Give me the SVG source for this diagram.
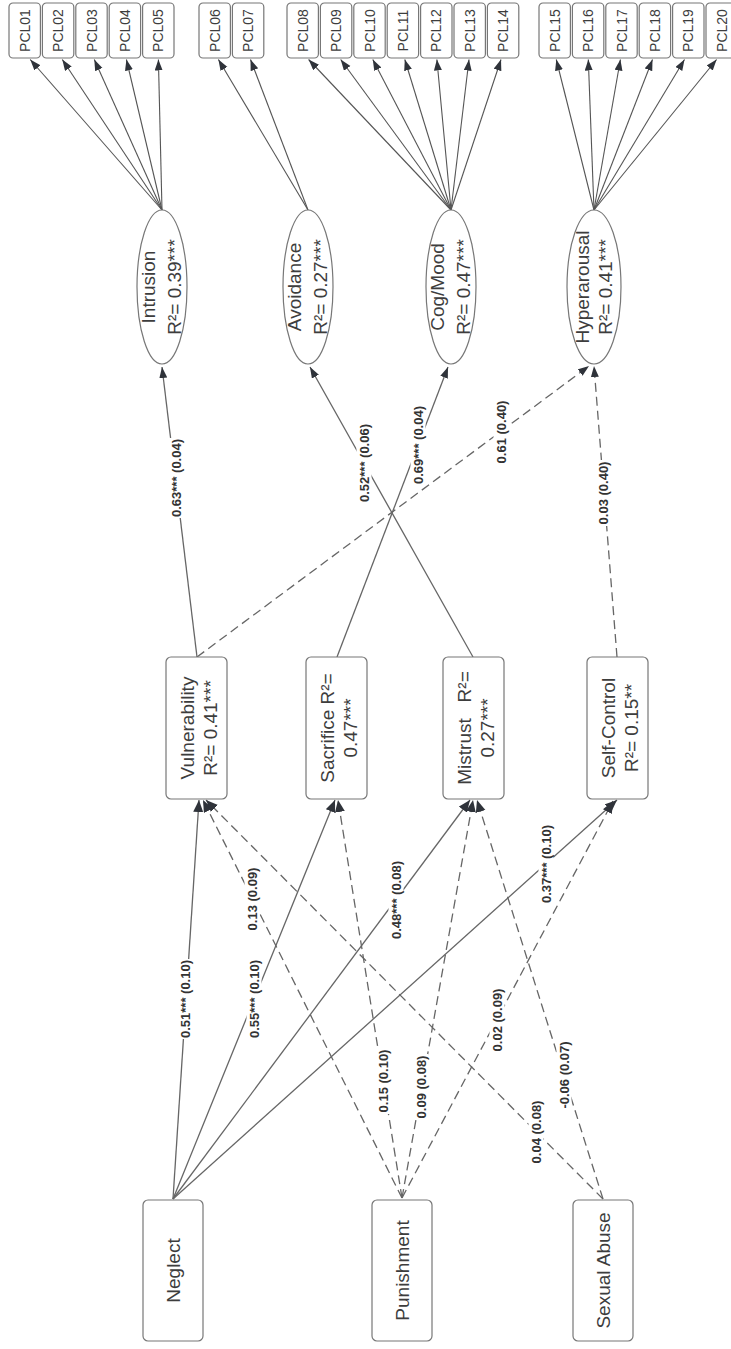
<svg xmlns="http://www.w3.org/2000/svg" width="731" height="1349" viewBox="0 0 731 1349">
  <style>
    .edge { fill: none; stroke: #666666; stroke-width: 1.3; }
    .dash { stroke-dasharray: 9 5; }
    .med { marker-end: url(#ah-lg); }
    .fac { marker-end: url(#ah-md); }
    .load { fill: none; stroke: #555555; stroke-width: 1.1; marker-end: url(#ah-sm); }
    .box { fill: #ffffff; stroke: #777777; stroke-width: 1.2; }
    .lblbg { fill: #ffffff; }
    .lbl { font-family: "Liberation Sans", Arial, sans-serif; font-weight: bold; font-size: 13px; fill: #333333; text-anchor: middle; }
    .nt { font-family: "Liberation Sans", Arial, sans-serif; font-size: 19px; fill: #3d3d3d; text-anchor: middle; white-space: pre; }
    .pt { font-family: "Liberation Sans", Arial, sans-serif; font-size: 14px; fill: #3d3d3d; text-anchor: middle; }
  </style>
  <defs>
    <marker id="ah-lg" markerUnits="userSpaceOnUse" markerWidth="13" markerHeight="11" refX="12" refY="5" orient="auto">
      <path d="M0,0 L12,5 L0,10 z" fill="#2f333a"/>
    </marker>
    <marker id="ah-md" markerUnits="userSpaceOnUse" markerWidth="12" markerHeight="9" refX="11" refY="4" orient="auto">
      <path d="M0,0 L11,4 L0,8 z" fill="#2f333a"/>
    </marker>
    <marker id="ah-sm" markerUnits="userSpaceOnUse" markerWidth="12" markerHeight="9" refX="11" refY="4" orient="auto">
      <path d="M0,0 L11,4 L0,8 z" fill="#2f333a"/>
    </marker>
  </defs>

  <rect width="731" height="1349" fill="#ffffff"/>

  <!-- connectors: structural paths, factor loadings and path coefficients -->
  <g id="connectors">
    <!-- maltreatment -> schema domains -->
    <path class="edge med" d="M173,1199 L199,800"/>
    <path class="edge med" d="M173,1199 L335,800"/>
    <path class="edge med" d="M173,1199 L470,800"/>
    <path class="edge med" d="M173,1199 L617,800"/>
    <path class="edge dash med" d="M402,1198 L203,800"/>
    <path class="edge dash med" d="M402,1198 L338,800"/>
    <path class="edge dash med" d="M402,1198 L473,800"/>
    <path class="edge dash med" d="M402,1198 L613,801"/>
    <path class="edge dash med" d="M603,1199 L206,800"/>
    <path class="edge dash med" d="M603,1199 L477,800"/>

    <!-- schema domains -> PTSD clusters -->
    <path class="edge fac" d="M197,657 L162,367"/>
    <path class="edge dash fac" d="M197,657 L589,366"/>
    <path class="edge fac" d="M337,657 L448,367"/>
    <path class="edge fac" d="M473,657 L310,367"/>
    <path class="edge dash fac" d="M617,657 L594,366"/>

    <!-- item loadings -->
    <path class="load" d="M162,210 L30.2,59.5"/>
    <path class="load" d="M162,210 L62.3,59.5"/>
    <path class="load" d="M162,210 L94.3,59.5"/>
    <path class="load" d="M162,210 L126.4,59.5"/>
    <path class="load" d="M162,210 L158.4,59.5"/>
    <path class="load" d="M308,210 L218.4,59.5"/>
    <path class="load" d="M308,210 L250.5,59.5"/>
    <path class="load" d="M451,210 L308.6,59.5"/>
    <path class="load" d="M451,210 L340.7,59.5"/>
    <path class="load" d="M451,210 L372.8,59.5"/>
    <path class="load" d="M451,210 L404.8,59.5"/>
    <path class="load" d="M451,210 L436.9,59.5"/>
    <path class="load" d="M451,210 L469,59.5"/>
    <path class="load" d="M451,210 L501,59.5"/>
    <path class="load" d="M594,210 L556.3,59.5"/>
    <path class="load" d="M594,210 L588.3,59.5"/>
    <path class="load" d="M594,210 L620.4,59.5"/>
    <path class="load" d="M594,210 L652.5,59.5"/>
    <path class="load" d="M594,210 L684.5,59.5"/>
    <path class="load" d="M594,210 L716.6,59.5"/>

    <!-- coefficient labels -->
    <g transform="translate(185,999) rotate(-90)"><rect class="lblbg" x="-40" y="-7.5" width="80" height="15"/><text class="lbl" y="4.6">0.51*** (0.10)</text></g>
    <g transform="translate(254,999) rotate(-90)"><rect class="lblbg" x="-40" y="-7.5" width="80" height="15"/><text class="lbl" y="4.6">0.55*** (0.10)</text></g>
    <g transform="translate(396,900) rotate(-90)"><rect class="lblbg" x="-40" y="-7.5" width="80" height="15"/><text class="lbl" y="4.6">0.48*** (0.08)</text></g>
    <g transform="translate(546,864) rotate(-90)"><rect class="lblbg" x="-40" y="-7.5" width="80" height="15"/><text class="lbl" y="4.6">0.37*** (0.10)</text></g>
    <g transform="translate(252,899) rotate(-90)"><rect class="lblbg" x="-33" y="-7.5" width="66" height="15"/><text class="lbl" y="4.6">0.13 (0.09)</text></g>
    <g transform="translate(383,1081) rotate(-90)"><rect class="lblbg" x="-33" y="-7.5" width="66" height="15"/><text class="lbl" y="4.6">0.15 (0.10)</text></g>
    <g transform="translate(421,1087) rotate(-90)"><rect class="lblbg" x="-33" y="-7.5" width="66" height="15"/><text class="lbl" y="4.6">0.09 (0.08)</text></g>
    <g transform="translate(497,1020) rotate(-90)"><rect class="lblbg" x="-33" y="-7.5" width="66" height="15"/><text class="lbl" y="4.6">0.02 (0.09)</text></g>
    <g transform="translate(536,1132) rotate(-90)"><rect class="lblbg" x="-33" y="-7.5" width="66" height="15"/><text class="lbl" y="4.6">0.04 (0.08)</text></g>
    <g transform="translate(564,1075) rotate(-90)"><rect class="lblbg" x="-35" y="-7.5" width="70" height="15"/><text class="lbl" y="4.6">-0.06 (0.07)</text></g>
    <g transform="translate(176,478) rotate(-90)"><rect class="lblbg" x="-40" y="-7.5" width="80" height="15"/><text class="lbl" y="4.6">0.63*** (0.04)</text></g>
    <g transform="translate(364,463) rotate(-90)"><rect class="lblbg" x="-40" y="-7.5" width="80" height="15"/><text class="lbl" y="4.6">0.52*** (0.06)</text></g>
    <g transform="translate(418,445) rotate(-90)"><rect class="lblbg" x="-40" y="-7.5" width="80" height="15"/><text class="lbl" y="4.6">0.69*** (0.04)</text></g>
    <g transform="translate(501,432) rotate(-90)"><rect class="lblbg" x="-33" y="-7.5" width="66" height="15"/><text class="lbl" y="4.6">0.61 (0.40)</text></g>
    <g transform="translate(603,493) rotate(-90)"><rect class="lblbg" x="-33" y="-7.5" width="66" height="15"/><text class="lbl" y="4.6">0.03 (0.40)</text></g>
  </g>

  <!-- maltreatment types -->
  <g id="n-neglect">
    <rect class="box" x="143" y="1200" width="60" height="141" rx="5"/>
    <text class="nt" transform="translate(173,1270.5) rotate(-90)" y="6.8">Neglect</text>
  </g>
  <g id="n-punishment">
    <rect class="box" x="372" y="1200" width="60" height="141" rx="5"/>
    <text class="nt" transform="translate(402,1270.5) rotate(-90)" y="6.8">Punishment</text>
  </g>
  <g id="n-sexual-abuse">
    <rect class="box" x="573" y="1200" width="60" height="141" rx="5"/>
    <text class="nt" transform="translate(603,1270.5) rotate(-90)" y="6.8">Sexual Abuse</text>
  </g>

  <!-- schema domains -->
  <g id="n-vulnerability">
    <rect class="box" x="166" y="657" width="61" height="142" rx="5"/>
    <text class="nt" transform="translate(196.5,728) rotate(-90)"><tspan x="0" y="-3">Vulnerability</tspan><tspan x="0" y="20">R²= 0.41***</tspan></text>
  </g>
  <g id="n-sacrifice">
    <rect class="box" x="306" y="657" width="61" height="142" rx="5"/>
    <text class="nt" transform="translate(336.5,728) rotate(-90)"><tspan x="0" y="-3">Sacrifice R²=</tspan><tspan x="0" y="20">0.47***</tspan></text>
  </g>
  <g id="n-mistrust">
    <rect class="box" x="443" y="657" width="61" height="142" rx="5"/>
    <text class="nt" transform="translate(473.5,728) rotate(-90)"><tspan x="0" y="-3">Mistrust   R²=</tspan><tspan x="0" y="20">0.27***</tspan></text>
  </g>
  <g id="n-self-control">
    <rect class="box" x="587" y="657" width="61" height="142" rx="5"/>
    <text class="nt" transform="translate(617.5,728) rotate(-90)"><tspan x="0" y="-3">Self-Control</tspan><tspan x="0" y="20">R²= 0.15**</tspan></text>
  </g>

  <!-- PTSD symptom clusters -->
  <g id="n-intrusion">
    <ellipse class="box" cx="162" cy="287" rx="25" ry="77"/>
    <text class="nt" transform="translate(162,287) rotate(-90)"><tspan x="0" y="-7">Intrusion</tspan><tspan x="0" y="19">R²= 0.39***</tspan></text>
  </g>
  <g id="n-avoidance">
    <ellipse class="box" cx="308" cy="287" rx="25" ry="77"/>
    <text class="nt" transform="translate(308,287) rotate(-90)"><tspan x="0" y="-7">Avoidance</tspan><tspan x="0" y="19">R²= 0.27***</tspan></text>
  </g>
  <g id="n-cogmood">
    <ellipse class="box" cx="451" cy="287" rx="25" ry="77"/>
    <text class="nt" transform="translate(451,287) rotate(-90)"><tspan x="0" y="-7">Cog/Mood</tspan><tspan x="0" y="19">R²= 0.47***</tspan></text>
  </g>
  <g id="n-hyperarousal">
    <ellipse class="box" cx="594" cy="287" rx="27" ry="77"/>
    <text class="nt" transform="translate(594,287) rotate(-90)"><tspan x="0" y="-5">Hyperarousal</tspan><tspan x="0" y="18">R²= 0.41***</tspan></text>
  </g>

  <!-- PCL-5 items -->
  <g id="n-pcl01"><rect class="box" x="9" y="3" width="31.4" height="55" rx="4"/><text class="pt" transform="translate(24.7,30.5) rotate(-90)" y="5">PCL01</text></g>
  <g id="n-pcl02"><rect class="box" x="42.4" y="3" width="31.4" height="55" rx="4"/><text class="pt" transform="translate(58.1,30.5) rotate(-90)" y="5">PCL02</text></g>
  <g id="n-pcl03"><rect class="box" x="75.8" y="3" width="31.4" height="55" rx="4"/><text class="pt" transform="translate(91.5,30.5) rotate(-90)" y="5">PCL03</text></g>
  <g id="n-pcl04"><rect class="box" x="109.2" y="3" width="31.4" height="55" rx="4"/><text class="pt" transform="translate(124.9,30.5) rotate(-90)" y="5">PCL04</text></g>
  <g id="n-pcl05"><rect class="box" x="142.6" y="3" width="31.4" height="55" rx="4"/><text class="pt" transform="translate(158.3,30.5) rotate(-90)" y="5">PCL05</text></g>
  <g id="n-pcl06"><rect class="box" x="199" y="3" width="31.4" height="55" rx="4"/><text class="pt" transform="translate(214.7,30.5) rotate(-90)" y="5">PCL06</text></g>
  <g id="n-pcl07"><rect class="box" x="232.4" y="3" width="31.4" height="55" rx="4"/><text class="pt" transform="translate(248.1,30.5) rotate(-90)" y="5">PCL07</text></g>
  <g id="n-pcl08"><rect class="box" x="287" y="3" width="31.4" height="55" rx="4"/><text class="pt" transform="translate(302.7,30.5) rotate(-90)" y="5">PCL08</text></g>
  <g id="n-pcl09"><rect class="box" x="320.4" y="3" width="31.4" height="55" rx="4"/><text class="pt" transform="translate(336.1,30.5) rotate(-90)" y="5">PCL09</text></g>
  <g id="n-pcl10"><rect class="box" x="353.8" y="3" width="31.4" height="55" rx="4"/><text class="pt" transform="translate(369.5,30.5) rotate(-90)" y="5">PCL10</text></g>
  <g id="n-pcl11"><rect class="box" x="387.2" y="3" width="31.4" height="55" rx="4"/><text class="pt" transform="translate(402.9,30.5) rotate(-90)" y="5">PCL11</text></g>
  <g id="n-pcl12"><rect class="box" x="420.6" y="3" width="31.4" height="55" rx="4"/><text class="pt" transform="translate(436.3,30.5) rotate(-90)" y="5">PCL12</text></g>
  <g id="n-pcl13"><rect class="box" x="454" y="3" width="31.4" height="55" rx="4"/><text class="pt" transform="translate(469.7,30.5) rotate(-90)" y="5">PCL13</text></g>
  <g id="n-pcl14"><rect class="box" x="487.4" y="3" width="31.4" height="55" rx="4"/><text class="pt" transform="translate(503.1,30.5) rotate(-90)" y="5">PCL14</text></g>
  <g id="n-pcl15"><rect class="box" x="539" y="3" width="31.4" height="55" rx="4"/><text class="pt" transform="translate(554.7,30.5) rotate(-90)" y="5">PCL15</text></g>
  <g id="n-pcl16"><rect class="box" x="572.4" y="3" width="31.4" height="55" rx="4"/><text class="pt" transform="translate(588.1,30.5) rotate(-90)" y="5">PCL16</text></g>
  <g id="n-pcl17"><rect class="box" x="605.8" y="3" width="31.4" height="55" rx="4"/><text class="pt" transform="translate(621.5,30.5) rotate(-90)" y="5">PCL17</text></g>
  <g id="n-pcl18"><rect class="box" x="639.2" y="3" width="31.4" height="55" rx="4"/><text class="pt" transform="translate(654.9,30.5) rotate(-90)" y="5">PCL18</text></g>
  <g id="n-pcl19"><rect class="box" x="672.6" y="3" width="31.4" height="55" rx="4"/><text class="pt" transform="translate(688.3,30.5) rotate(-90)" y="5">PCL19</text></g>
  <g id="n-pcl20"><rect class="box" x="706" y="3" width="31.4" height="55" rx="4"/><text class="pt" transform="translate(721.7,30.5) rotate(-90)" y="5">PCL20</text></g>
</svg>
